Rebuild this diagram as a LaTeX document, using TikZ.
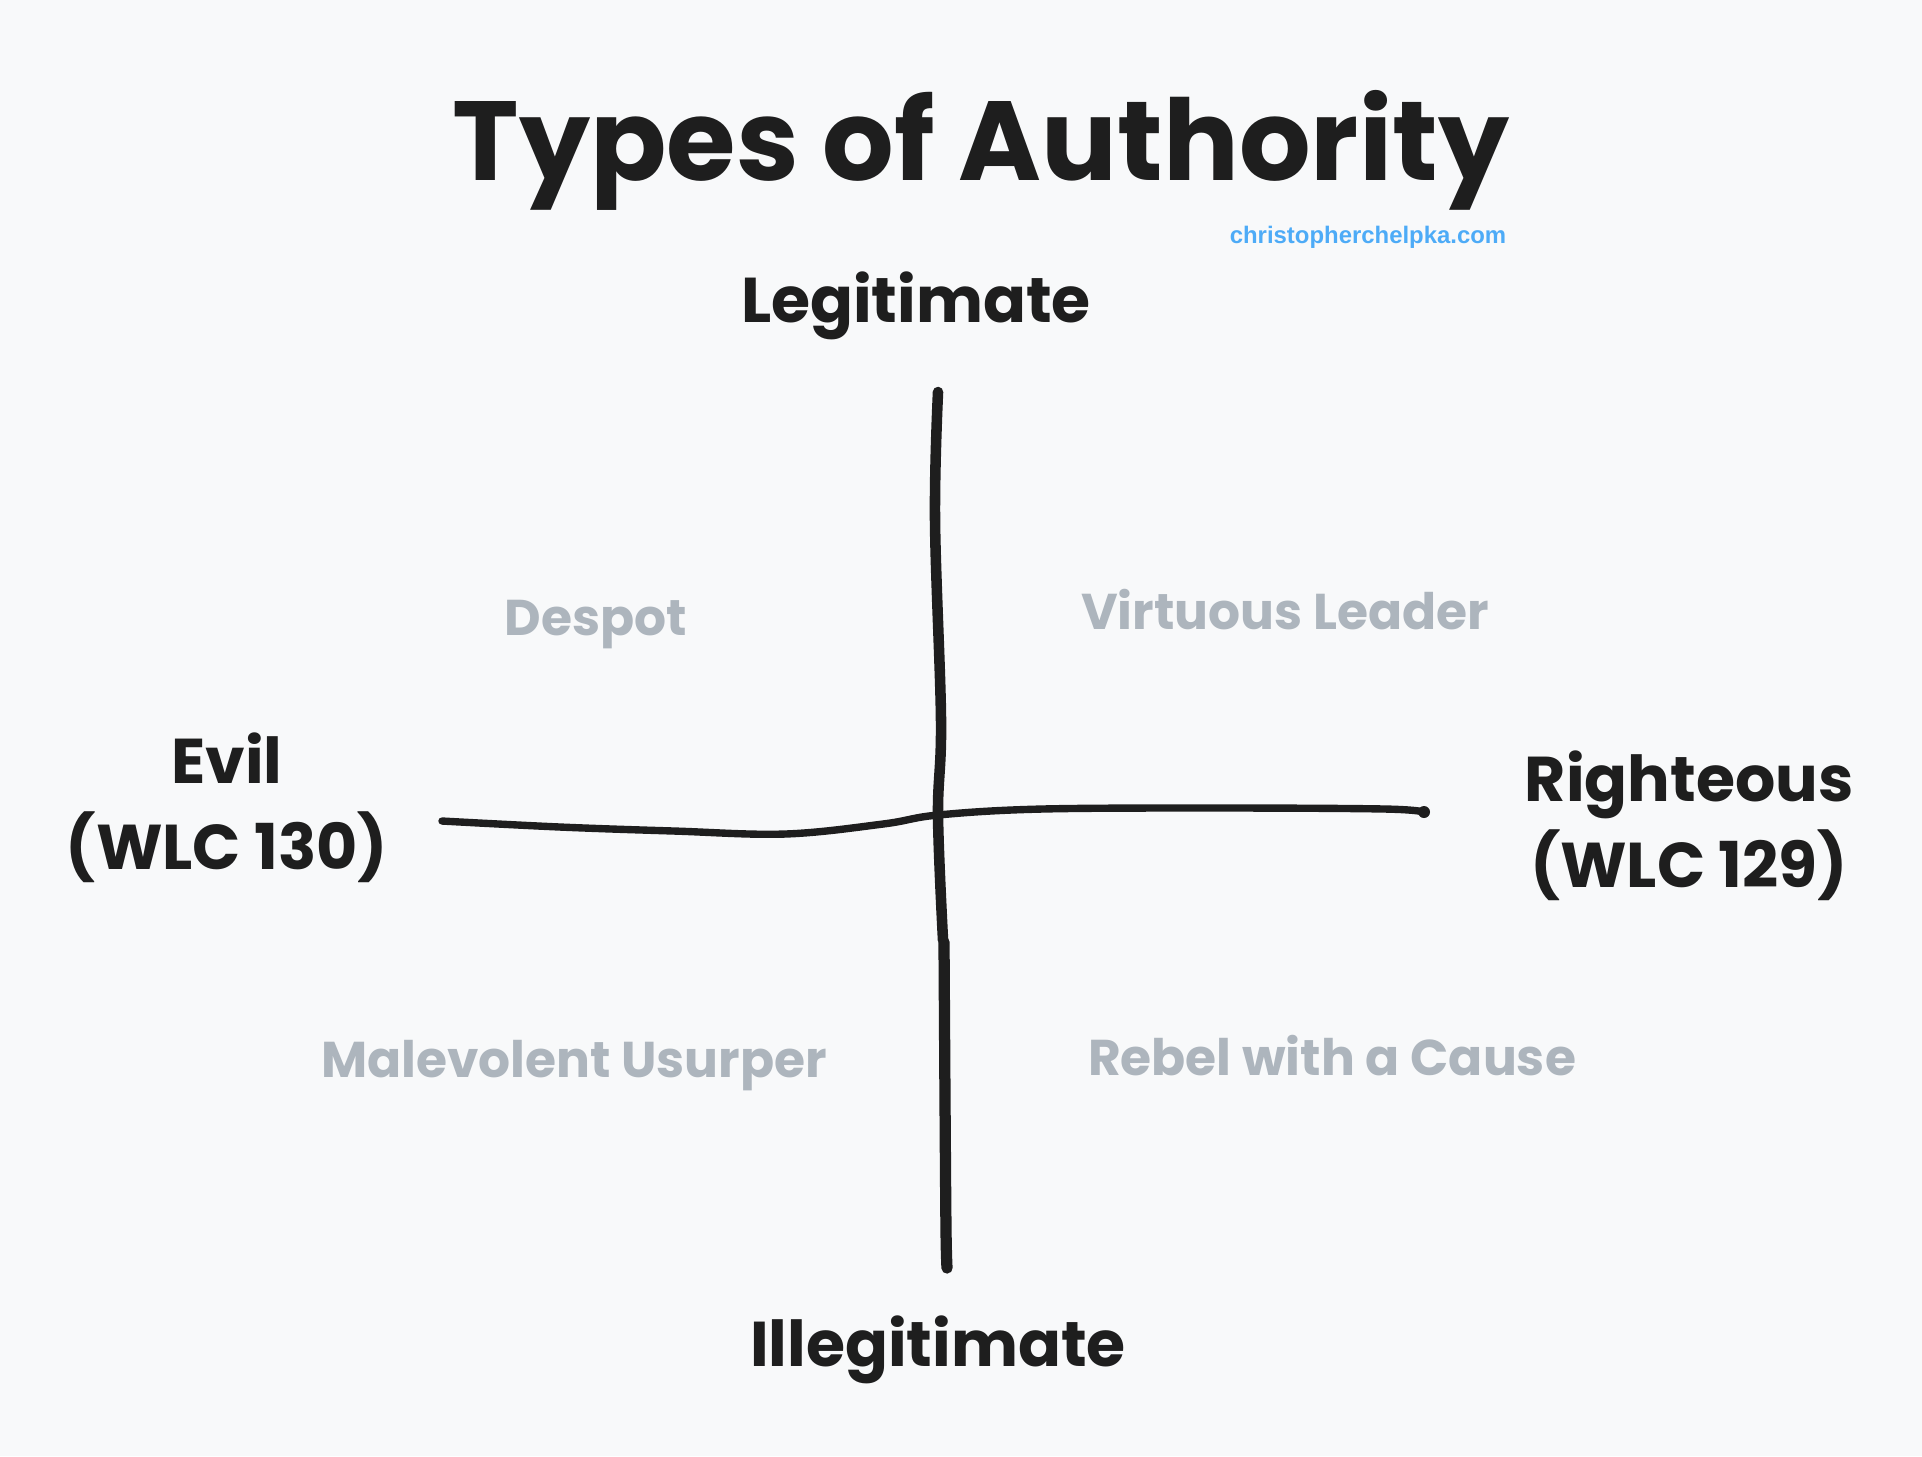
\documentclass[tikz,border=0pt]{standalone}
\usepackage{fontspec}
\setmainfont{Poppins}
\newfontfamily\urlfont{Liberation Sans}
\usepackage{xcolor}
\definecolor{ink}{HTML}{1E1E1E}
\definecolor{paper}{HTML}{F8F9FA}
\definecolor{quad}{HTML}{ADB5BD}
\definecolor{link}{HTML}{4DABF7}

\begin{document}
\begin{tikzpicture}[x=0.01cm,y=-0.01cm,
		axis/.style={ink, line cap=round, line join=round},
		pole/.style={ink, font=\fontsize{18}{24.5}\selectfont\bfseries, align=center},
		quadlabel/.style={quad, font=\fontsize{14.3}{17}\selectfont\bfseries}]
		\fill [paper] (0,0) rectangle (1922,1456);
		\useasboundingbox (0,0) rectangle (1922,1456);
		% title and source
		\node [ink, font=\fontsize{32}{38}\selectfont\bfseries] (title) at (981,150) {Types of Authority};
		\node [link, font=\urlfont\fontsize{6.8}{8}\selectfont\bfseries] (url) at (1368,237) {christopherchelpka.com};
		% axis ends
		\coordinate (axtop) at (938,392);
		\coordinate (axbot) at (947,1268);
		\coordinate (axleft) at (442,821);
		\coordinate (axright) at (1424,812);
		% vertical axis
		\draw [axis, line width=3pt] plot [smooth, tension=0.6] coordinates
			{(axtop) (935,520) (941,720) (938,815) (943,940)};
		\draw [axis, line width=3.2pt] plot [smooth, tension=0.6] coordinates
			{(944,942) (945,1100) (946,1230) (axbot)};
		% horizontal axis
		\draw [axis, line width=2.1pt] plot [smooth, tension=0.6] coordinates
			{(axleft) (560,827) (674,831) (785,834) (883,824) (938,815)
			 (1042,809) (1226,808) (1385,809) (axright)};
		\fill [ink] (axright) circle (6);
		%
		\node [pole] (legit) at (916,306) {Legitimate};
		\node [pole] (illegit) at (938,1350) {Illegitimate};
		\node [pole] (evil) at (227,808) {Evil\\(WLC 130)};
		\node [pole] (righteous) at (1689,826) {Righteous\\(WLC 129)};
		%
		\node [quadlabel] (despot) at (596,625) {Despot};
		\node [quadlabel] (virtuous) at (1285,610) {Virtuous Leader};
		\node [quadlabel] (usurper) at (574,1066) {Malevolent Usurper};
		\node [quadlabel] (rebel) at (1332,1056) {Rebel with a Cause};
	\end{tikzpicture}
\end{document}
